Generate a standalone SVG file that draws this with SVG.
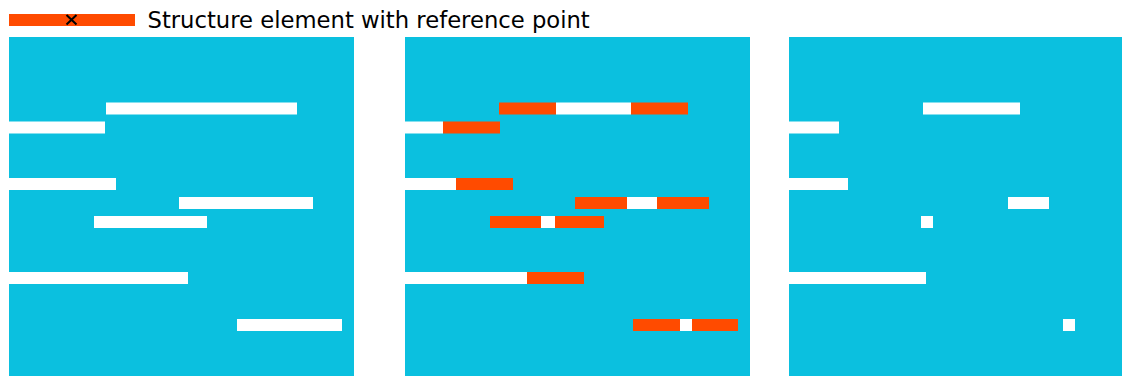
<svg xmlns="http://www.w3.org/2000/svg" width="1122" height="376" viewBox="0 0 1122 376">
<style>
.bg{fill:#0BC0DF}
.w{fill:#FFFFFF}
.o{fill:#FF4B00}
.lbl{font-family:"DejaVu Sans","Liberation Sans",sans-serif;font-size:22.7px;fill:#000}
.x{stroke:#000;stroke-width:2;fill:none}
</style>
<rect width="1122" height="376" fill="#FFFFFF"/>
<g id="legend">
<rect class="o" x="9" y="14" width="126" height="12"/>
<path class="x" d="M66.5,15 L76.5,24.5 M76.5,15 L66.5,24.5"/>
<text class="lbl" x="147.5" y="27.5">Structure element with reference point</text>
</g>
<g id="panel-original">
<rect class="bg" x="9" y="37" width="345" height="339"/>
<rect class="w" x="106" y="102.5" width="191" height="12"/>
<rect class="w" x="9" y="121.5" width="96" height="12"/>
<rect class="w" x="9" y="178" width="107" height="12"/>
<rect class="w" x="179" y="197" width="134" height="12"/>
<rect class="w" x="94" y="216" width="113" height="12"/>
<rect class="w" x="9" y="272" width="179" height="12"/>
<rect class="w" x="237" y="319" width="105" height="12"/>
</g>
<g id="panel-structure">
<rect class="bg" x="405" y="37" width="345" height="339"/>
<rect class="w" x="556" y="102.5" width="75" height="12"/>
<rect class="o" x="499" y="102.5" width="57" height="12"/>
<rect class="o" x="631" y="102.5" width="57" height="12"/>
<rect class="w" x="405" y="121.5" width="38" height="12"/>
<rect class="o" x="443" y="121.5" width="57" height="12"/>
<rect class="w" x="405" y="178" width="51" height="12"/>
<rect class="o" x="456" y="178" width="57" height="12"/>
<rect class="o" x="575" y="197" width="52" height="12"/>
<rect class="w" x="627" y="197" width="30" height="12"/>
<rect class="o" x="657" y="197" width="52" height="12"/>
<rect class="o" x="490" y="216" width="51" height="12"/>
<rect class="w" x="541" y="216" width="14" height="12"/>
<rect class="o" x="555" y="216" width="49" height="12"/>
<rect class="w" x="405" y="272" width="122" height="12"/>
<rect class="o" x="527" y="272" width="57" height="12"/>
<rect class="o" x="633" y="319" width="47" height="12"/>
<rect class="w" x="680" y="319" width="12" height="12"/>
<rect class="o" x="692" y="319" width="46" height="12"/>
</g>
<g id="panel-result">
<rect class="bg" x="789" y="37" width="333" height="339"/>
<rect class="w" x="923" y="102.5" width="97" height="12"/>
<rect class="w" x="789" y="121.5" width="50" height="12"/>
<rect class="w" x="789" y="178" width="59" height="12"/>
<rect class="w" x="1008" y="197" width="41" height="12"/>
<rect class="w" x="921" y="216" width="12" height="12"/>
<rect class="w" x="789" y="272" width="137" height="12"/>
<rect class="w" x="1063" y="319" width="12" height="12"/>
</g>
<g id="connectors"></g>
</svg>
